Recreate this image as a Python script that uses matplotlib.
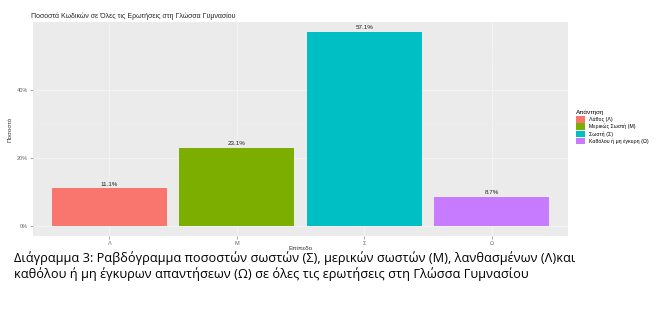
import numpy as np
import matplotlib.pyplot as plt
from matplotlib.patches import Patch

# ποσοστά κωδικών ανά επίπεδο απάντησης
levels = ['Λ', 'Μ', 'Σ', 'Ω']
percent = [11.1, 23.1, 57.1, 8.7]
legend_labels = ['Λάθος (Λ)', 'Μερικώς Σωστή (Μ)', 'Σωστή (Σ)', 'Καθόλου ή μη έγκυρη (Ω)']
colors = ['#F8766D', '#7CAE00', '#00BFC4', '#C77CFF']

plt.rcParams['font.family'] = ['Liberation Sans', 'DejaVu Sans']

fig = plt.figure(figsize=(6.64, 3.24), dpi=100)
ax = fig.add_axes([33 / 664, 1 - 236 / 324, 535 / 664, 214 / 324])

x = np.arange(1, len(levels) + 1)
ax.bar(x, percent, width=0.9, color=colors, zorder=3)
for xi, p in zip(x, percent):
    ax.text(xi, p + 0.4, '%.1f%%' % p, ha='center', va='bottom', fontsize=4.5,
            color='#222222', zorder=4)

top = max(percent)
ax.set_xlim(0.4, 4.6)
ax.set_ylim(-0.05 * top, 1.05 * top)
ax.set_facecolor('#EBEBEB')
for s in ax.spines.values():
    s.set_visible(False)

ax.set_yticks([0, 20, 40])
ax.set_yticklabels(['0%', '20%', '40%'])
ax.set_yticks([10, 30, 50], minor=True)
ax.set_xticks(x)
ax.set_xticklabels(levels)
ax.tick_params(axis='both', which='major', labelsize=4, colors='#666666',
               length=2, width=0.4, pad=1.5)
ax.tick_params(axis='y', which='minor', length=0)
ax.grid(True, which='major', color='#F7F7F7', linewidth=0.5, zorder=0)
ax.grid(True, which='minor', axis='y', color='#F3F3F3', linewidth=0.3, zorder=0)

ax.set_xlabel('Επίπεδο', fontsize=4.5, color='#333333', labelpad=0)
ax.set_ylabel('Ποσοστό', fontsize=4.5, color='#333333', labelpad=3)
ax.set_title('Ποσοστά Κωδικών σε Όλες τις Ερωτήσεις στη Γλώσσα Γυμνασίου',
             fontsize=5, loc='left', x=-0.004, pad=3, color='#222222')

handles = [Patch(facecolor=c, edgecolor='none') for c in colors]
leg = fig.legend(handles, legend_labels, title='Απάντηση', loc='upper left',
                 bbox_to_anchor=(574 / 664, 1 - 108 / 324), frameon=False,
                 fontsize=3.8, title_fontsize=4.5, handlelength=1.6,
                 handleheight=1.5, labelspacing=0.15, handletextpad=0.8,
                 borderaxespad=0)
leg._legend_box.align = 'left'

caption_font = ['Open Sans', 'DejaVu Sans']
fig.text(14 / 664, 1 - 258 / 324,
         'Διάγραμμα 3: Ραβδόγραμμα ποσοστών σωστών (Σ), μερικών σωστών (Μ), λανθασμένων (Λ)και',
         fontsize=9.2, family=caption_font, va='center', color='black')
fig.text(14 / 664, 1 - 274 / 324,
         'καθόλου ή μη έγκυρων απαντήσεων (Ω) σε όλες τις ερωτήσεις στη Γλώσσα Γυμνασίου',
         fontsize=9.2, family=caption_font, va='center', color='black')

fig.savefig('out.png', dpi=100, facecolor='white')
